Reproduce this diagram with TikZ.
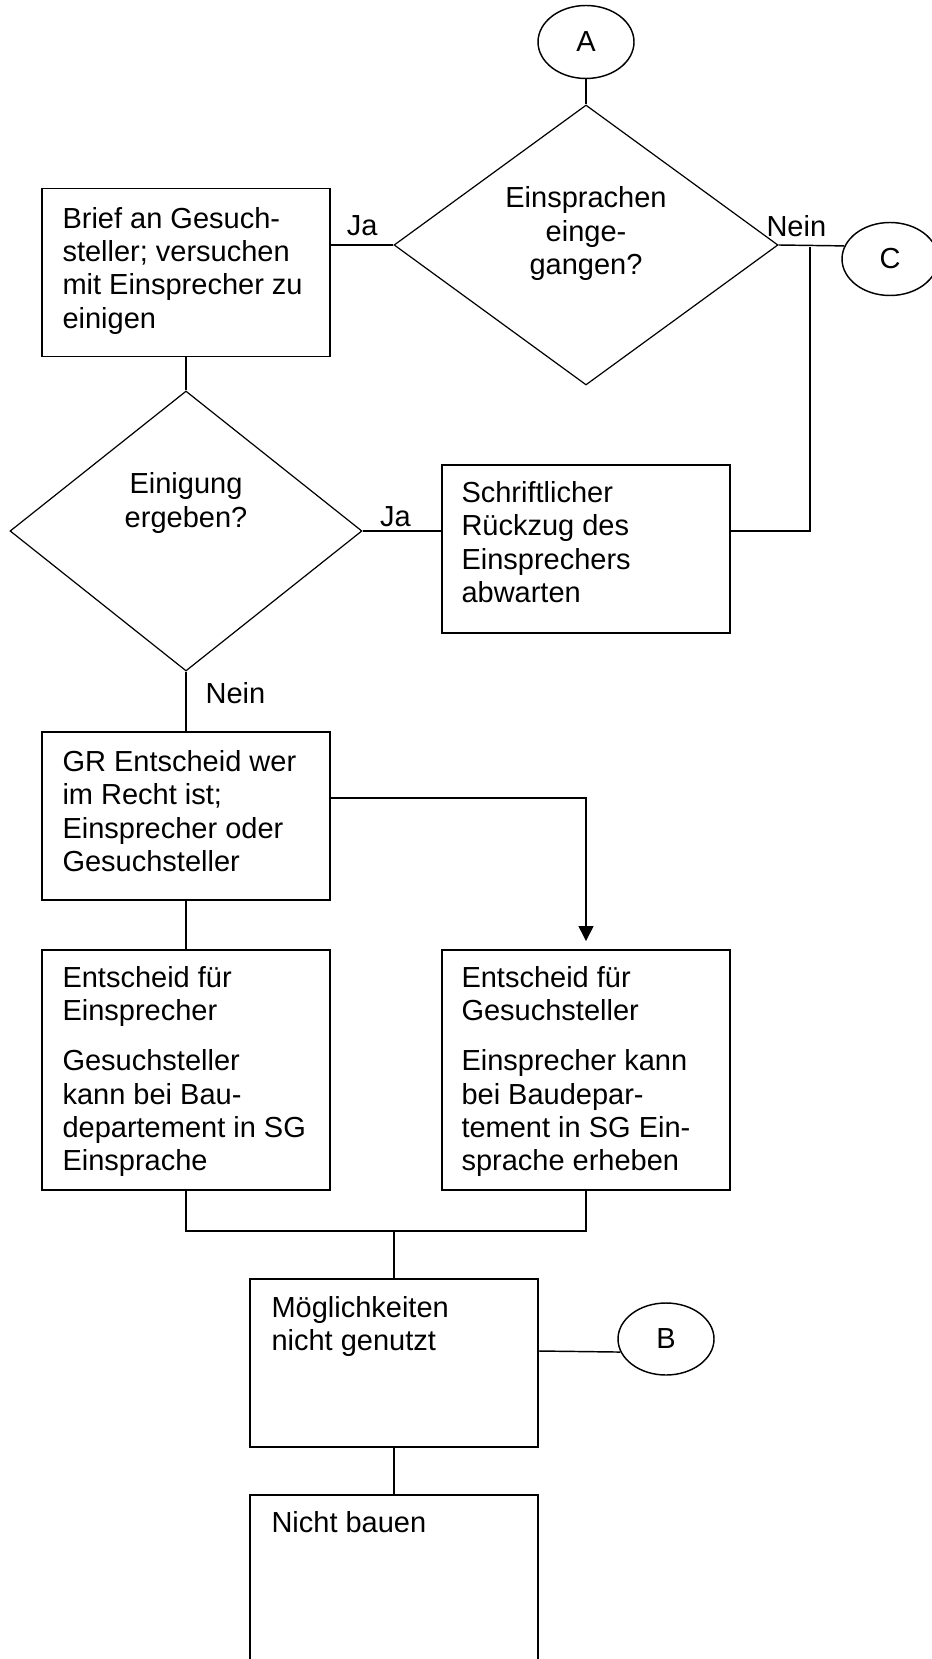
\documentclass[tikz,border=0pt]{standalone}
\usepackage{fontspec}
\setmainfont{Liberation Sans}
\usetikzlibrary{positioning, shapes.geometric, arrows.meta}
\newlength{\unitpx}
\setlength{\unitpx}{0.4138pt}
\tikzstyle{Arrow} = [
%Arrow with filled head, stops short of the box:
semithick,
-{Triangle[width=6.2pt, length=6.2pt]},
shorten >= 8\unitpx
]
\tikzstyle{Line} = [semithick]

\begin{document}
\begin{tikzpicture}[
			x = \unitpx, y = -\unitpx,
			font = \fontsize{12}{13.8}\selectfont,
			process/.style = {rectangle, thick, draw, minimum width = 288\unitpx, minimum height = 168\unitpx, inner sep = 0pt},
			decision/.style = {diamond, draw, line width = 0.5pt, inner sep = 0pt},
			connector/.style = {ellipse, draw, semithick, minimum width = 96\unitpx, minimum height = 73\unitpx, inner sep = 0pt},
			boxtext/.style = {inner sep = 0pt, align = left},
			dectext/.style = {inner sep = 0pt, align = center},
		]

		\useasboundingbox (0,0) rectangle (932,1659);
		\clip (0,0) rectangle (932,1659);

		% connectors A, B, C
		\node[connector](A) at (586,42){A};
		\node[connector](C) at (890,259){C};
		\node[connector, minimum height = 72\unitpx](B) at (666,1339){B};

		% decisions
		\node[decision, minimum width = 384\unitpx, minimum height = 280\unitpx](eingang) at (586,245){};
		\node[dectext, below = 82\unitpx of eingang.north](eingang-t){Einsprachen\\einge-\\gangen?};
		\node[decision, minimum width = 352\unitpx, minimum height = 280\unitpx](einig) at (186,531){};
		\node[dectext, below = 82\unitpx of einig.north](einig-t){Einigung\\ergeben?};

		% boxes
		\node[process](brief) at (186,272.5){};
		\node[boxtext, below right = 19\unitpx and 21\unitpx of brief.north west](brief-t){Brief an Gesuch-\\steller; versuchen\\mit Einsprecher zu\\einigen};
		\node[process](rueckzug) at (586,549){};
		\node[boxtext, below right = 17\unitpx and 20\unitpx of rueckzug.north west](rueckzug-t){Schriftlicher\\Rückzug des\\Einsprechers\\abwarten};
		\node[process](gr) at (186,816){};
		\node[boxtext, below right = 19\unitpx and 21\unitpx of gr.north west](gr-t){GR Entscheid wer\\im Recht ist;\\Einsprecher oder\\Gesuchsteller};
		\node[process, minimum height = 240\unitpx](einsp) at (186,1070){};
		\node[boxtext, below right = 17\unitpx and 21\unitpx of einsp.north west](einsp-t){Entscheid für\\Einsprecher\\[6.8pt]Gesuchsteller\\kann bei Bau-\\departement in SG\\Einsprache};
		\node[process, minimum height = 240\unitpx](gesuch) at (586,1070){};
		\node[boxtext, below right = 17\unitpx and 20\unitpx of gesuch.north west](gesuch-t){Entscheid für\\Gesuchsteller\\[6.8pt]Einsprecher kann\\bei Baudepar-\\tement in SG Ein-\\sprache erheben};
		\node[process](mogl) at (394,1363){};
		\node[boxtext, below right = 18\unitpx and 22\unitpx of mogl.north west](mogl-t){Möglichkeiten\\nicht genutzt};
		\node[process, minimum height = 220\unitpx](nicht) at (394,1605){};
		\node[boxtext, below right = 17\unitpx and 22\unitpx of nicht.north west](nicht-t){Nicht bauen};

		\coordinate(knick) at (810,247);
		\coordinate(treffen) at (394,1231);

		\draw[Line](A)--(eingang);
		\draw[Line](eingang.west)--node[midway, above](ja1){Ja}(eingang.west -| brief.east);
		\draw[Line](eingang.east)--node[pos = 0.27, above](nein1){Nein}(C.164);
		\draw[Line](einig.east -| rueckzug.east) -| (knick);
		\draw[Line](brief)--(einig);
		\draw[Line](einig.east)--node[pos = 0.42, above = -2pt](ja2){Ja}(einig.east -| rueckzug.west);
		\draw[Line](einig)--node[pos = 0.36, right = 4.5pt](nein2){Nein}(gr);
		\draw[Arrow]([yshift = 18\unitpx]gr.east) -| (gesuch.north);
		\draw[Line](gr)--(einsp);
		\draw[Line](einsp.south) |- (treffen) -| (gesuch.south);
		\draw[Line](treffen)--(mogl);
		\draw[Line]([yshift = 12\unitpx]mogl.east)--(B.196);
		\draw[Line](mogl)--(nicht);

	\end{tikzpicture}
\end{document}
